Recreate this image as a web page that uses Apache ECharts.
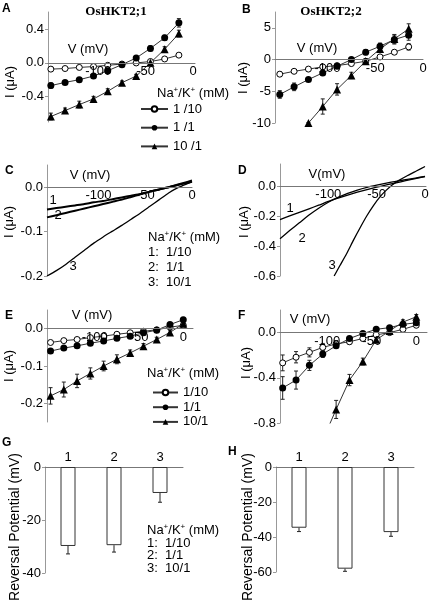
<!DOCTYPE html>
<html><head><meta charset="utf-8">
<script src="https://cdn.jsdelivr.net/npm/echarts@6/dist/echarts.min.js"></script>
<style>html,body{margin:0;padding:0;background:#fff}#c{width:430px;height:601px}</style>
</head><body><div id="c"></div>
<script>
// ---------------- data ----------------
const voltsAB = [-150,-135,-120,-105,-90,-75,-60,-45,-30,-15];
const aOpen = [-0.075,-0.068,-0.055,-0.045,-0.030,-0.015,-0.002,0.015,0.045,0.090];
const aOpenErr = [0.01,0.01,0.01,0.01,0.01,0.01,0.01,0.01,0.01,0.015];
const aFilled = [-0.270,-0.232,-0.200,-0.157,-0.094,-0.022,0.057,0.170,0.295,0.472];
const aFilledErr = [0.03,0.02,0.02,0.02,0.02,0.02,0.02,0.03,0.03,0.05];
const aTri = [-0.635,-0.565,-0.494,-0.427,-0.337,-0.235,-0.157,0.000,0.160,0.345];
const aTriErr = [0.04,0.03,0.04,0.03,0.03,0.02,0.02,0.03,0.03,0.04];

const bOpen = [-2.3,-1.85,-1.5,-1.15,-0.95,-0.63,-0.26,0.42,1.16,2.0];
const bOpenErr = [0.3,0.2,0.2,0.2,0.2,0.2,0.2,0.2,0.3,0.5];
const bFilled = [-5.5,-4.3,-3.15,-2.1,-1.05,0.0,1.16,2.1,3.15,3.85];
const bFilledErr = [0.6,0.6,0.3,0.3,0.3,0.3,0.4,0.5,0.7,0.8];
const bTriVolts = [-120,-105,-90,-75,-60,-45,-30,-15];
const bTri = [-10.0,-7.4,-4.7,-2.5,-0.26,1.68,3.26,4.84];
const bTriErr = [0,1.2,0.9,0.5,0.4,0.5,0.7,0.8];

const cVolts = [-155,-145,-135,-125,-115,-105,-95,-85,-75,-65,-55,-45,-35,-25,-15,-5,0];
const cCurve1 = [-0.050,-0.047,-0.044,-0.041,-0.038,-0.034,-0.031,-0.027,-0.023,-0.019,-0.015,-0.010,-0.005,0.000,0.006,0.012,0.015];
const cCurve2 = [-0.068,-0.063,-0.058,-0.053,-0.048,-0.043,-0.038,-0.033,-0.028,-0.022,-0.016,-0.010,-0.005,0.000,0.005,0.010,0.012];
const cCurve3 = [-0.200,-0.188,-0.174,-0.158,-0.142,-0.126,-0.112,-0.099,-0.086,-0.072,-0.058,-0.043,-0.028,-0.013,-0.001,0.008,0.012];

const dVolts12 = [-150,-140,-130,-120,-110,-100,-90,-80,-70,-60,-50,-40,-30,-20,-10,0];
const dCurve1 = [-0.222,-0.198,-0.174,-0.150,-0.126,-0.101,-0.079,-0.058,-0.039,-0.021,-0.005,0.010,0.024,0.038,0.052,0.065];
const dCurve2 = [-0.350,-0.296,-0.244,-0.192,-0.146,-0.106,-0.074,-0.047,-0.025,-0.007,0.008,0.022,0.034,0.045,0.056,0.067];
const dVolts3 = [-94,-88,-81,-74,-67,-60,-53,-46,-40,-34,-27,-18,-9,0];
const dCurve3 = [-0.600,-0.530,-0.449,-0.360,-0.275,-0.195,-0.125,-0.065,-0.025,0.010,0.040,0.073,0.103,0.133];

const voltsEF = [-150,-135,-120,-105,-90,-75,-60,-45,-30,-15,0];
const eOpen = [-0.037,-0.032,-0.029,-0.024,-0.020,-0.015,-0.011,-0.007,-0.003,0.004,0.009];
const eOpenErr = [0.005,0.004,0.003,0.003,0.003,0.002,0.002,0.002,0.002,0.003,0.004];
const eFilled = [-0.060,-0.052,-0.046,-0.039,-0.033,-0.026,-0.020,-0.011,-0.004,0.011,0.024];
const eFilledErr = [0.005,0.004,0.004,0.004,0.003,0.003,0.003,0.003,0.003,0.004,0.006];
const eTri = [-0.180,-0.163,-0.140,-0.120,-0.100,-0.082,-0.065,-0.047,-0.029,-0.010,0.013];
const eTriErr = [0.022,0.020,0.018,0.015,0.013,0.012,0.008,0.007,0.006,0.006,0.008];

const fOpen = [-0.268,-0.218,-0.175,-0.131,-0.100,-0.081,-0.052,-0.020,0.000,0.029,0.065];
const fOpenErr = [0.07,0.05,0.04,0.035,0.03,0.02,0.02,0.015,0.01,0.01,0.015];
const fFilled = [-0.490,-0.420,-0.290,-0.190,-0.116,-0.052,-0.009,0.029,0.044,0.073,0.087];
const fFilledErr = [0.10,0.08,0.045,0.03,0.02,0.015,0.01,0.01,0.01,0.01,0.015];
const fTriVolts = [-105,-90,-75,-60,-45,-30,-15,0];
const fTri = [-0.95,-0.68,-0.42,-0.256,-0.064,0.015,0.093,0.140];
const fTriErr = [0.05,0.08,0.05,0.03,0.02,0.02,0.02,0.02];

const barCats = ['1','2','3'];
const gVals = [-29.8,-29.5,-9.8];
const gErr = [3.0,2.6,3.5];
const hVals = [-34.7,-58.1,-37.2];
const hErr = [2.2,1.5,2.4];

const xTickValues = [-100,-50,0];
const legendNamesA = ['1 /10','1 /1','10 /1'];
const legendNamesE = ['1/10','1/1','10/1'];
const ratioRows = ['1:  1/10','2:  1/1','3:  10/1'];

// ---------------- build ----------------
const FONT = "'Liberation Sans', Arial, sans-serif";
const grids = [], xAxes = [], yAxes = [], series = [];

const openSt = {symbol:'circle', symbolSize:6, itemStyle:{color:'#fff', borderColor:'#000', borderWidth:1}};
const filledSt = {symbol:'circle', symbolSize:7, itemStyle:{color:'#000'}};
const triSt = {symbol:'triangle', symbolSize:8, itemStyle:{color:'#000'}};

function errRender(params, api) {
  const x = api.value(0), lo = api.value(1), hi = api.value(2);
  const p1 = api.coord([x, lo]), p2 = api.coord([x, hi]);
  const c = 2, st = {stroke:'#222', lineWidth:1};
  return {type:'group', children:[
    {type:'line', shape:{x1:p1[0], y1:p1[1], x2:p2[0], y2:p2[1]}, style:st},
    {type:'line', shape:{x1:p1[0]-c, y1:p1[1], x2:p1[0]+c, y2:p1[1]}, style:st},
    {type:'line', shape:{x1:p2[0]-c, y1:p2[1], x2:p2[0]+c, y2:p2[1]}, style:st}
  ]};
}

function ivSeries(gi, name, xs, ys, errs, st) {
  series.push({type:'line', name, xAxisIndex:gi, yAxisIndex:gi,
    data: xs.map((x,i)=>[x, ys[i]]), symbol:st.symbol, symbolSize:st.symbolSize,
    itemStyle:st.itemStyle, lineStyle:{color:'#333', width:1}, clip:true, z:3, animation:false});
  series.push({type:'custom', xAxisIndex:gi, yAxisIndex:gi, clip:true, z:2, silent:true, animation:false,
    encode:{x:0, y:[1,2]},
    data: xs.map((x,i)=>[x, ys[i]-errs[i], ys[i]+errs[i]]), renderItem: errRender});
}

function curve(gi, xs, ys, w) {
  series.push({type:'line', xAxisIndex:gi, yAxisIndex:gi, data: xs.map((x,i)=>[x, ys[i]]),
    symbol:'none', smooth:0.2, lineStyle:{color:'#000', width:w}, clip:true, animation:false});
}

function ivAxes(g, xr, yr, yt, dec) {
  const i = grids.length;
  grids.push({left:g[0], top:g[1], width:g[2], height:g[3], outerBoundsMode:'none', containLabel:false});
  // x axis drawn through y = 0 (offset upward from the grid bottom)
  const zeroUp = g[3] * (0 - yr[0]) / (yr[1] - yr[0]);
  xAxes.push({type:'value', gridIndex:i, min:xr[0], max:xr[1], position:'bottom', offset:-zeroUp, z:5,
    axisLine:{onZero:false, lineStyle:{color:'#777', width:1}}, axisTick:{show:false}, splitLine:{show:false},
    axisLabel:{customValues:xTickValues, fontSize:13, fontFamily:FONT, color:'#000', margin:2, hideOverlap:false}});
  yAxes.push({type:'value', gridIndex:i, min:yr[0], max:yr[1],
    axisLine:{show:true, onZero:false, lineStyle:{color:'#999', width:1}},
    axisTick:{show:true, length:3, customValues:yt, lineStyle:{color:'#999'}},
    axisLabel:{customValues:yt, formatter:v=>v.toFixed(dec), fontSize:13, fontFamily:FONT, color:'#000', margin:4},
    splitLine:{show:false}});
  return i;
}

function barAxes(g, yr, yt) {
  const i = grids.length;
  grids.push({left:g[0], top:g[1], width:g[2], height:g[3], outerBoundsMode:'none', containLabel:false});
  xAxes.push({type:'category', gridIndex:i, data:barCats, position:'top',
    axisLine:{onZero:false, lineStyle:{color:'#777'}}, axisTick:{show:false},
    axisLabel:{fontSize:13, fontFamily:FONT, color:'#000', margin:3}});
  yAxes.push({type:'value', gridIndex:i, min:yr[0], max:yr[1],
    axisLine:{show:true, onZero:false, lineStyle:{color:'#999'}},
    axisTick:{show:true, length:3, customValues:yt, lineStyle:{color:'#999'}},
    axisLabel:{customValues:yt, fontSize:13, fontFamily:FONT, color:'#000', margin:4},
    splitLine:{show:false}});
  return i;
}

function bars(gi, vals, errs) {
  series.push({type:'bar', xAxisIndex:gi, yAxisIndex:gi, data:vals, barWidth:15, animation:false,
    itemStyle:{color:'#fff', borderColor:'#333', borderWidth:1}});
  series.push({type:'custom', xAxisIndex:gi, yAxisIndex:gi, silent:true, animation:false, z:3,
    data: vals.map((v,i)=>[i, v, v-errs[i]]),
    renderItem:(params, api)=>{
      const p1 = api.coord([api.value(0), api.value(1)]), p2 = api.coord([api.value(0), api.value(2)]);
      const st = {stroke:'#222', lineWidth:1};
      return {type:'group', children:[
        {type:'line', shape:{x1:p1[0], y1:p1[1], x2:p2[0], y2:p2[1]}, style:st},
        {type:'line', shape:{x1:p2[0]-2, y1:p2[1], x2:p2[0]+2, y2:p2[1]}, style:st}]};
    }});
}

// A
let gA = ivAxes([48,12,147,110], [-153,2], [-0.7,0.6], [-0.4,0,0.4], 1);
ivSeries(gA, legendNamesA[0], voltsAB, aOpen, aOpenErr, openSt);
ivSeries(gA, legendNamesA[1], voltsAB, aFilled, aFilledErr, filledSt);
ivSeries(gA, legendNamesA[2], voltsAB, aTri, aTriErr, triSt);
// B
let gB = ivAxes([275,12,148,111], [-155,0], [-10,7.5], [-10,-5,0,5], 0);
ivSeries(gB, 'B 1/10', voltsAB, bOpen, bOpenErr, openSt);
ivSeries(gB, 'B 1/1', voltsAB, bFilled, bFilledErr, filledSt);
ivSeries(gB, 'B 10/1', bTriVolts, bTri, bTriErr, triSt);
// C
let gC = ivAxes([47,165,145,111], [-155,0], [-0.2,0.05], [-0.2,-0.1,0], 1);
curve(gC, cVolts, cCurve1, 2);
curve(gC, cVolts, cCurve2, 2);
curve(gC, cVolts, cCurve3, 1.3);
// D
let gD = ivAxes([280,164,146,112], [-150,1], [-0.6,0.15], [-0.6,-0.4,-0.2,0], 1);
curve(gD, dVolts12, dCurve1, 1.3);
curve(gD, dVolts12, dCurve2, 1.3);
curve(gD, dVolts3, dCurve3, 1.3);
// E
let gE = ivAxes([47,310,146,112], [-154,11], [-0.25,0.05], [-0.2,-0.1,0], 1);
ivSeries(gE, legendNamesE[0], voltsEF, eOpen, eOpenErr, openSt);
ivSeries(gE, legendNamesE[1], voltsEF, eFilled, eFilledErr, filledSt);
ivSeries(gE, legendNamesE[2], voltsEF, eTri, eTriErr, triSt);
// F
let gF = ivAxes([280,310,147,113], [-153,12], [-0.8,0.2], [-0.8,-0.4,0], 1);
ivSeries(gF, 'F 1/10', voltsEF, fOpen, fOpenErr, openSt);
ivSeries(gF, 'F 1/1', voltsEF, fFilled, fFilledErr, filledSt);
ivSeries(gF, 'F 10/1', fTriVolts, fTri, fTriErr, triSt);
// G, H
let gG = barAxes([45,467,138,106], [-40,0], [-40,-20,0]);
bars(gG, gVals, gErr);
let gH = barAxes([276,467,138,105], [-60,0], [-60,-40,-20,0]);
bars(gH, hVals, hErr);

// ---------------- text ----------------
const rich = {n:{fontSize:13, fontFamily:FONT, color:'#000'}, s:{fontSize:8, fontFamily:FONT, color:'#000', verticalAlign:'top', padding:[0,0,6,0]}};
const header = '{n|Na}{s|+}{n|/K}{s|+}{n| (mM)}';
function txt(x, y, text, o) {
  o = o || {};
  return {type:'text', x, y, rotation:o.rot || 0, silent:true, z:10,
    style:{text, fontSize:o.size || 13, fontFamily:o.family || FONT, fontWeight:o.weight || 'normal',
      fill:'#000', align:o.align || 'center', verticalAlign:o.va || 'middle', rich:o.rich}};
}
const graphics = [];
[['A',2,3],['B',242,4],['C',5,165],['D',238,165],['E',5,310],['F',238,310],['G',2,437],['H',228,446]]
  .forEach(l => graphics.push(txt(l[1], l[2], l[0], {weight:'bold', size:12, align:'left', va:'top'})));
graphics.push(txt(116,12,'OsHKT2;1',{weight:'bold', family:"'Liberation Serif', 'Times New Roman', serif"}));
graphics.push(txt(331,12,'OsHKT2;2',{weight:'bold', family:"'Liberation Serif', 'Times New Roman', serif"}));
[[10,82],[243,78],[9,222],[244,222],[9,366],[246,363]].forEach(p => graphics.push(txt(p[0],p[1],'I (μA)',{rot:Math.PI/2})));
graphics.push(txt(88,49,'V (mV)'));
graphics.push(txt(317,48,'V (mV)'));
graphics.push(txt(90,175,'V (mV)'));
graphics.push(txt(327,174,'V(mV)'));
graphics.push(txt(92,315,'V (mV)'));
graphics.push(txt(310,319,'V (mV)'));
graphics.push(txt(15,527,'Reversal Potential (mV)',{rot:Math.PI/2, size:14}));
graphics.push(txt(248,527,'Reversal Potential (mV)',{rot:Math.PI/2, size:14}));
graphics.push(txt(157,93,header,{align:'left', rich}));
graphics.push(txt(148,237,header,{align:'left', rich}));
graphics.push(txt(147,373,header,{align:'left', rich}));
graphics.push(txt(147,530,header,{align:'left', rich}));
ratioRows.forEach((r,i) => graphics.push(txt(148, 252 + i*15, r, {align:'left'})));
ratioRows.forEach((r,i) => graphics.push(txt(147, 543 + i*12.5, r, {align:'left'})));
[['1',53,200],['2',58,215],['3',73,266],['1',290,208],['2',302,238],['3',332,265]]
  .forEach(l => graphics.push(txt(l[1], l[2], l[0])));

const legendCommon = {orient:'vertical', padding:0, itemHeight:7, selectedMode:false,
  textStyle:{fontSize:13, fontFamily:FONT, color:'#000', lineHeight:13}};

const chart = echarts.init(document.getElementById('c'), null, {renderer:'canvas'});
chart.setOption({
  backgroundColor:'#fff',
  animation:false,
  grid:grids, xAxis:xAxes, yAxis:yAxes, series,
  legend:[
    Object.assign({}, legendCommon, {data:legendNamesA, left:140, top:102.5, itemWidth:27, itemGap:5.7}),
    Object.assign({}, legendCommon, {data:legendNamesE, left:152, top:386, itemWidth:25, itemGap:1.7})
  ],
  graphic:graphics
});
</script></body></html>
